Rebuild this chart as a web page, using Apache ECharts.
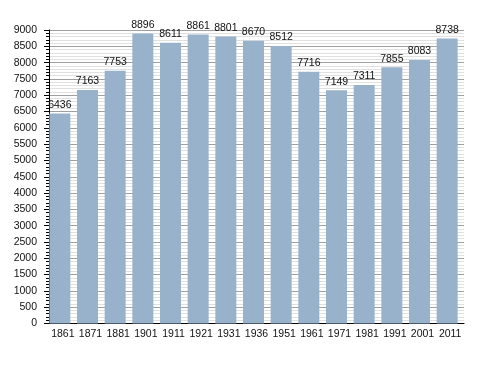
<!DOCTYPE html>
<html>
<head>
<meta charset="utf-8">
<script src="https://cdn.jsdelivr.net/npm/echarts@6/dist/echarts.min.js"></script>
<style>
html,body{margin:0;padding:0;background:#fff;}
#chart{width:488px;height:373px;}
</style>
</head>
<body>
<div id="chart"></div>
<script>
var categories = ['1861','1871','1881','1901','1911','1921','1931','1936','1951','1961','1971','1981','1991','2001','2011'];
var population = [6436,7163,7753,8896,8611,8861,8801,8670,8512,7716,7149,7311,7855,8083,8738];
var yTicks = [0,500,1000,1500,2000,2500,3000,3500,4000,4500,5000,5500,6000,6500,7000,7500,8000,8500,9000];

var chart = echarts.init(document.getElementById('chart'), null, {renderer:'canvas'});
var font = 'Liberation Sans, Arial, sans-serif';
chart.setOption({
  animation:false,
  grid:{left:49, top:30, width:415, height:293.5},
  xAxis:{
    type:'category',
    data:categories,
    axisLine:{lineStyle:{color:'#000', width:1}},
    axisTick:{show:false},
    axisLabel:{color:'#111', fontSize:10.5, fontFamily:font, margin:5, interval:0},
    splitLine:{show:false}
  },
  yAxis:{
    type:'value',
    min:yTicks[0], max:yTicks[yTicks.length-1], interval:500,
    axisLine:{show:true, lineStyle:{color:'#000', width:1}},
    axisTick:{show:true, length:5, lineStyle:{color:'#000'}},
    minorTick:{show:true, splitNumber:5, length:3, lineStyle:{color:'#000'}},
    axisLabel:{color:'#111', fontSize:10.5, fontFamily:font, margin:12,
      formatter:function(v){return String(v);}},
    splitLine:{show:true, lineStyle:{color:'#a0a0a0', width:1}},
    minorSplitLine:{show:true, lineStyle:{color:'#e0e0e0', width:1}}
  },
  series:[
    {
      type:'bar',
      data:population,
      barWidth:21,
      barGap:'0%',
      itemStyle:{color:'#98b2cc'},
      label:{show:true, position:'top', distance:3, color:'#111', fontSize:10.5, fontFamily:font}
    },
    {
      type:'bar',
      data:population.map(function(){return null;}),
      barWidth:6,
      barGap:'0%',
      itemStyle:{color:'rgba(0,0,0,0)'},
      silent:true
    }
  ]
});
</script>
</body>
</html>
